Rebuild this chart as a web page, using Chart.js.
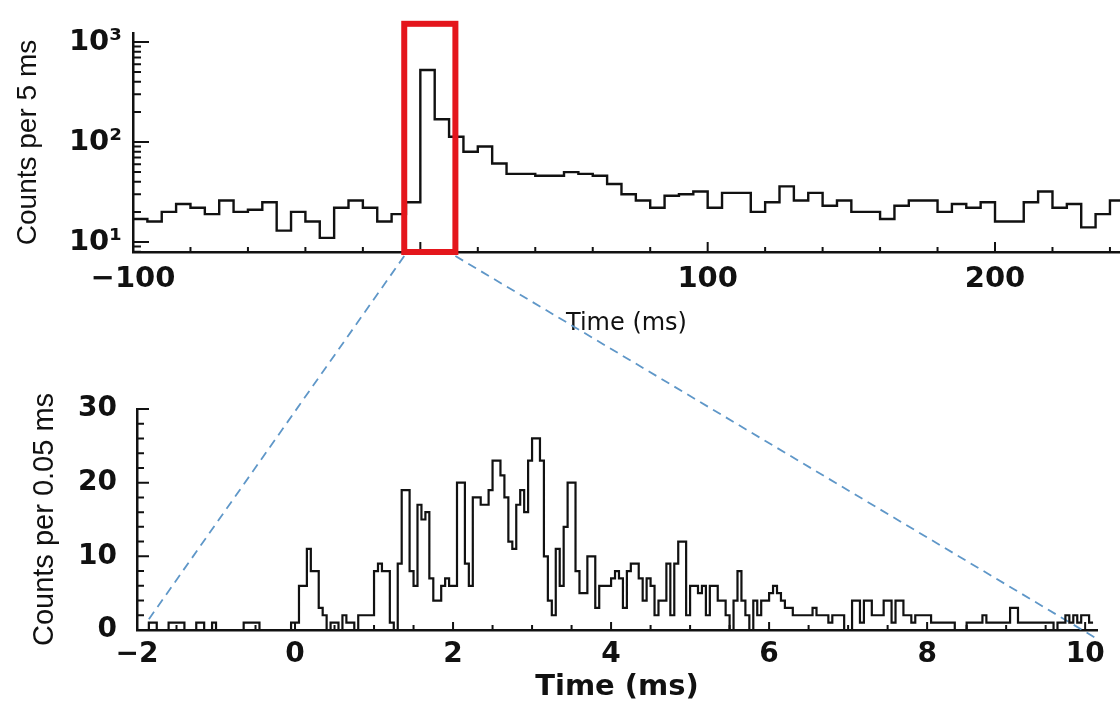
<!DOCTYPE html>
<html>
<head>
<meta charset="utf-8">
<title>Burst light curve</title>
<script src="https://cdn.jsdelivr.net/npm/chart.js@4.4.0/dist/chart.umd.min.js"></script>
<style>
  html, body { margin: 0; padding: 0; background: #fff; }
  #wrap { position: relative; width: 1120px; height: 702px; overflow: hidden; }
  #wrap canvas { position: absolute; left: 0; top: 0; }
</style>
</head>
<body>
<div id="wrap">
  <canvas id="topChart" width="1120" height="702"></canvas>
  <canvas id="zoomChart" width="1120" height="702"></canvas>
</div>
<script>
// top panel: counts per 5 ms, bins start at -100 ms
const topBinStart = -100;
const topBinWidth = 5;
const topCounts = [
    17, 16, 20, 24, 22, 19, 26, 20, 21, 25, 13, 20, 16, 11, 22, 26, 22, 16, 19, 25,
    525, 169, 113, 80, 90, 61, 48, 48, 46, 46, 50, 48, 46, 38, 30, 26, 22, 29, 30, 32,
    22, 31, 31, 20, 25, 36, 26, 31, 23, 26, 20, 20, 17, 23, 26, 26, 20, 24, 22, 25,
    16, 16, 25, 32, 22, 24, 14, 19, 26
];

// bottom panel: counts per 0.05 ms, bins start at -2 ms
const zoomBinStart = -2;
const zoomBinWidth = 0.05;
const zoomCounts = [
    0, 0, 0, 1, 1, 0, 0, 0, 1, 1, 1, 1, 0, 0, 0, 1, 1, 0, 0, 1,
    0, 0, 0, 0, 0, 0, 0, 1, 1, 1, 1, 0, 0, 0, 0, 0, 0, 0, 0, 1,
    1, 6, 6, 11, 8, 8, 3, 2, 0, 1, 1, 0, 2, 1, 1, 0, 2, 2, 2, 2,
    8, 9, 8, 8, 1, 0, 9, 19, 19, 8, 6, 17, 15, 16, 7, 4, 4, 6, 7, 6,
    6, 20, 20, 9, 6, 18, 18, 17, 17, 19, 23, 23, 21, 18, 12, 11, 17, 19, 16, 23,
    26, 26, 23, 10, 4, 2, 11, 6, 14, 20, 20, 8, 5, 5, 10, 10, 3, 6, 6, 6,
    7, 8, 7, 3, 8, 9, 9, 7, 4, 7, 6, 2, 4, 4, 9, 2, 9, 12, 12, 2,
    6, 6, 5, 6, 2, 6, 6, 4, 4, 2, 0, 4, 8, 4, 2, 0, 4, 2, 4, 4,
    5, 6, 5, 4, 3, 3, 2, 2, 2, 2, 2, 3, 2, 2, 2, 1, 2, 2, 2, 0,
    0, 4, 4, 1, 4, 4, 2, 2, 2, 4, 4, 1, 4, 4, 2, 2, 1, 2, 2, 2,
    2, 1, 1, 1, 1, 1, 1, 0, 0, 0, 1, 1, 1, 1, 2, 1, 1, 1, 1, 1,
    1, 3, 3, 1, 1, 1, 1, 1, 1, 1, 1, 1, 0, 1, 1, 2, 1, 2, 1, 2,
    2, 1
];

// labelled ticks
const topTimeLabels = [-100, 100, 200];
const topCountLabels = { 10: '10\u00b9', 100: '10\u00b2', 1000: '10\u00b3' };
const zoomTimeLabels = [-2, 0, 2, 4, 6, 8, 10];
const zoomCountLabels = [0, 10, 20, 30];

// the window marked by the red box (ms), and where the guide lines land below
const boxTimes = [-5.6, 12.2];
const boxTopCount = 1520;
const guideEnds = [[-1.88, 1], [10.12, -1]];

Chart.defaults.font.family = 'DejaVu Sans';
Chart.defaults.color = '#111';
Chart.defaults.animation = false;

function toSteps(start, width, counts) {
    const pts = counts.map((c, i) => ({ x: start + i * width, y: c }));
    pts.push({ x: start + counts.length * width, y: counts[counts.length - 1] });
    return pts;
}

function steps(a, b, d) {
    const out = [];
    for (let v = a; v <= b + 1e-9; v += d) out.push(+v.toFixed(6));
    return out;
}

function minus(v) {
    return v < 0 ? '\u2212' + Math.abs(v) : String(v);
}

// tick marks pointing into the plot, like the original figure
const inwardTicks = {
    id: 'inwardTicks',
    afterDatasetsDraw(chart, args, opts) {
        const { ctx, chartArea: a, scales: { x, y } } = chart;
        ctx.save();
        ctx.strokeStyle = '#111';
        ctx.lineWidth = 2;
        ctx.beginPath();
        x.ticks.forEach(t => {
            const px = x.getPixelForValue(t.value);
            const len = opts.xMajor(t.value) ? opts.xLong : opts.xShort;
            ctx.moveTo(px, a.bottom);
            ctx.lineTo(px, a.bottom - len);
        });
        y.ticks.forEach(t => {
            const py = y.getPixelForValue(t.value);
            const len = opts.yMajor(t.value) ? opts.yLong : opts.yShort;
            ctx.moveTo(a.left, py);
            ctx.lineTo(a.left + len, py);
        });
        ctx.stroke();
        ctx.restore();
    }
};

const zoomBox = {
    id: 'zoomBox',
    afterDraw(chart) {
        const { ctx, scales: { x, y } } = chart;
        const l = x.getPixelForValue(boxTimes[0]);
        const r = x.getPixelForValue(boxTimes[1]);
        const t = y.getPixelForValue(boxTopCount);
        const b = y.getPixelForValue(y.min);
        ctx.save();
        ctx.strokeStyle = '#e4161c';
        ctx.lineWidth = 6;
        ctx.strokeRect(l, t, r - l, b - t);
        ctx.restore();
    }
};

const topChart = new Chart(document.getElementById('topChart'), {
    type: 'line',
    data: {
        datasets: [{
            data: toSteps(topBinStart, topBinWidth, topCounts),
            stepped: 'before',
            borderColor: '#111',
            borderWidth: 2.4,
            pointRadius: 0,
            fill: false
        }]
    },
    options: {
        responsive: false,
        devicePixelRatio: 1,
        layout: { padding: { left: 0, top: 33, right: 0, bottom: 364 } },
        plugins: {
            legend: { display: false },
            tooltip: { enabled: false },
            inwardTicks: {
                xMajor: v => v % 100 === 0, xLong: 10, xShort: 5,
                yMajor: v => v in topCountLabels, yLong: 16, yShort: 8
            }
        },
        scales: {
            x: {
                type: 'linear',
                min: -100,
                max: 243.5,
                afterFit: s => { s.height = 86; },
                afterBuildTicks: s => { s.ticks = steps(-100, 240, 20).map(v => ({ value: v })); },
                grid: { display: false, drawTicks: false },
                border: { display: true, color: '#111', width: 2.5 },
                ticks: {
                    autoSkip: false, maxRotation: 0, padding: 10,
                    font: { size: 29, weight: 'bold' },
                    callback: v => topTimeLabels.includes(v) ? minus(v) : ''
                },
                title: { display: true, text: 'Time (ms)', font: { size: 24 }, padding: 0 }
            },
            y: {
                type: 'logarithmic',
                min: 7.94,
                max: 1230,
                afterFit: s => { s.width = 133; },
                afterBuildTicks: s => {
                    const ticks = [];
                    [1, 10, 100, 1000].forEach(d => {
                        for (let m = 1; m <= 9; m++) {
                            const v = m * d;
                            if (v >= s.min && v <= s.max) ticks.push({ value: v });
                        }
                    });
                    s.ticks = ticks;
                },
                grid: { display: false, drawTicks: false },
                border: { display: true, color: '#111', width: 2.5 },
                ticks: {
                    autoSkip: false, padding: 11,
                    font: { size: 29, weight: 'bold' },
                    callback: v => topCountLabels[v] || ''
                },
                title: {
                    display: true, text: 'Counts per 5 ms',
                    font: { family: 'Liberation Sans', size: 28 },
                    padding: { top: 11, bottom: 0 }
                }
            }
        }
    },
    plugins: [inwardTicks, zoomBox]
});

// dashed guides from the red box corners down to the zoomed panel
const guideLines = {
    id: 'guideLines',
    beforeDatasetsDraw(chart) {
        const tx = topChart.scales.x, ty = topChart.scales.y;
        const { ctx, scales: { x, y } } = chart;
        ctx.save();
        ctx.strokeStyle = '#5f97c8';
        ctx.lineWidth = 1.8;
        ctx.setLineDash([9, 6]);
        boxTimes.forEach((bt, i) => {
            const [zt, zc] = guideEnds[i];
            ctx.beginPath();
            ctx.moveTo(tx.getPixelForValue(bt), ty.getPixelForValue(ty.min) + 4);
            ctx.lineTo(x.getPixelForValue(zt), y.getPixelForValue(zc));
            ctx.stroke();
        });
        ctx.restore();
    }
};

new Chart(document.getElementById('zoomChart'), {
    type: 'line',
    data: {
        datasets: [{
            data: toSteps(zoomBinStart, zoomBinWidth, zoomCounts),
            stepped: 'before',
            borderColor: '#111',
            borderWidth: 2.2,
            pointRadius: 0,
            fill: false
        }]
    },
    options: {
        responsive: false,
        devicePixelRatio: 1,
        layout: { padding: { left: 0, top: 409, right: 23, bottom: 0 } },
        plugins: {
            legend: { display: false },
            tooltip: { enabled: false },
            inwardTicks: {
                xMajor: v => Math.abs(v % 2) < 1e-6, xLong: 8, xShort: 5,
                yMajor: v => v % 10 === 0, yLong: 12, yShort: 7
            }
        },
        scales: {
            x: {
                type: 'linear',
                min: -2,
                max: 10.15,
                afterFit: s => { s.height = 72; },
                afterBuildTicks: s => { s.ticks = steps(-2, 10, 0.5).map(v => ({ value: v })); },
                grid: { display: false, drawTicks: false },
                border: { display: true, color: '#111', width: 2.5 },
                ticks: {
                    autoSkip: false, maxRotation: 0, padding: 8,
                    font: { size: 28, weight: 'bold' },
                    callback: v => zoomTimeLabels.includes(v) ? minus(v) : ''
                },
                title: {
                    display: true, text: 'Time (ms)',
                    font: { size: 29, weight: 'bold', lineHeight: 1 },
                    padding: 0
                }
            },
            y: {
                type: 'linear',
                min: 0,
                max: 30,
                afterFit: s => { s.width = 137; },
                afterBuildTicks: s => { s.ticks = steps(0, 30, 2).map(v => ({ value: v })); },
                grid: { display: false, drawTicks: false },
                border: { display: true, color: '#111', width: 2.5 },
                ticks: {
                    autoSkip: false, padding: 20,
                    font: { size: 28, weight: 'bold' },
                    callback: v => zoomCountLabels.includes(v) ? String(v) : ''
                },
                title: {
                    display: true, text: 'Counts per 0.05 ms',
                    font: { family: 'Liberation Sans', size: 29 },
                    padding: { top: 28, bottom: 0 }
                }
            }
        }
    },
    plugins: [inwardTicks, guideLines]
});
</script>
</body>
</html>
